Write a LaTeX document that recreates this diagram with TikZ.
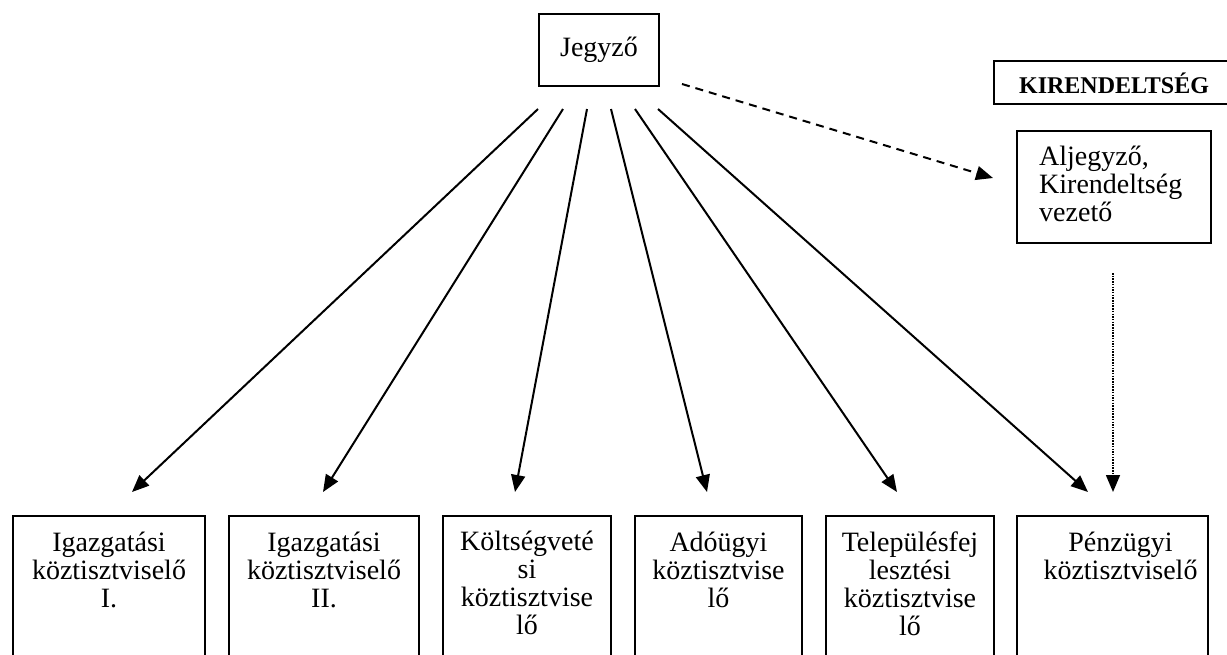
\documentclass[tikz,border=0pt]{standalone}
\usepackage{fontspec}
\setmainfont{Liberation Serif}
\usetikzlibrary{arrows.meta}
\begin{document}
\begin{tikzpicture}[x=1pt,y=-1pt,
  box/.style={draw, line width=2pt, inner sep=0pt, anchor=north west},
  lbl/.style={align=center, inner sep=0pt, anchor=north, font=\fontsize{28}{28}\selectfont},
  arr/.style={line width=2pt, -{Triangle[length=17pt,width=14pt]}},
  dasharr/.style={arr, dash pattern=on 8pt off 6pt},
  dotarr/.style={arr, line width=1.6pt, dash pattern=on 1.5pt off 1.2pt},
]
\useasboundingbox (0,0) rectangle (1227,654);

% top
\node[box, minimum width=120pt, minimum height=72pt, font=\fontsize{28}{28}\selectfont] (jegyzo) at (538,13) {Jegyző};
\node[box, minimum width=260pt, minimum height=43pt] (kir) at (993,60) {};
\node[inner sep=0pt, font=\fontsize{24}{24}\selectfont\bfseries] (kirt) at (1114,83) {KIRENDELTSÉG};
\node[box, minimum width=194pt, minimum height=112pt] (alj) at (1016,130) {};
\node[lbl, align=left, anchor=north west] (aljt) at (1039,140) {\rule{0pt}{25pt}Aljegyző,\\Kirendeltség\\vezető};

% bottom boxes
\node[box, minimum width=192pt, minimum height=170pt] (b1) at (12,515) {};
\node[box, minimum width=190pt, minimum height=170pt] (b2) at (228,515) {};
\node[box, minimum width=168pt, minimum height=170pt] (b3) at (442,515) {};
\node[box, minimum width=167pt, minimum height=170pt] (b4) at (634,515) {};
\node[box, minimum width=168pt, minimum height=170pt] (b5) at (825,515) {};
\node[box, minimum width=191pt, minimum height=170pt] (b6) at (1016,515) {};

\node[lbl] (t1) at ([yshift=-11pt]b1.north) {\rule{0pt}{25pt}Igazgatási\\köztisztviselő\\I.};
\node[lbl] (t2) at ([yshift=-11pt]b2.north) {\rule{0pt}{25pt}Igazgatási\\köztisztviselő\\II.};
\node[lbl] (t3) at ([yshift=-10pt]b3.north) {\rule{0pt}{25pt}Költségveté\\si\\köztisztvise\\lő};
\node[lbl] (t4) at ([yshift=-11pt]b4.north) {\rule{0pt}{25pt}Adóügyi\\köztisztvise\\lő};
\node[lbl] (t5) at ([yshift=-11pt]b5.north) {\rule{0pt}{25pt}Településfej\\lesztési\\köztisztvise\\lő};
\node[lbl] (t6) at ([xshift=8pt,yshift=-11pt]b6.north) {\rule{0pt}{25pt}Pénzügyi\\köztisztviselő};

% connector ends
\coordinate (s1) at (538,109); \coordinate (e1) at (132,492);
\coordinate (s2) at (563,109); \coordinate (e2) at (323,492);
\coordinate (s3) at (587,109); \coordinate (e3) at (515,492);
\coordinate (s4) at (611,109); \coordinate (e4) at (707,492);
\coordinate (s5) at (635,109); \coordinate (e5) at (897,492);
\coordinate (s6) at (658,109); \coordinate (e6) at (1088,492);
\coordinate (ds) at (682,84);  \coordinate (de) at (993,178);
\coordinate (ps) at (1113,273); \coordinate (pe) at (1113,492);

\draw[arr] (s1) -- (e1);
\draw[arr] (s2) -- (e2);
\draw[arr] (s3) -- (e3);
\draw[arr] (s4) -- (e4);
\draw[arr] (s5) -- (e5);
\draw[arr] (s6) -- (e6);
\draw[dasharr] (ds) -- (de);
\draw[dotarr] (ps) -- (pe);
\end{tikzpicture}
\end{document}
